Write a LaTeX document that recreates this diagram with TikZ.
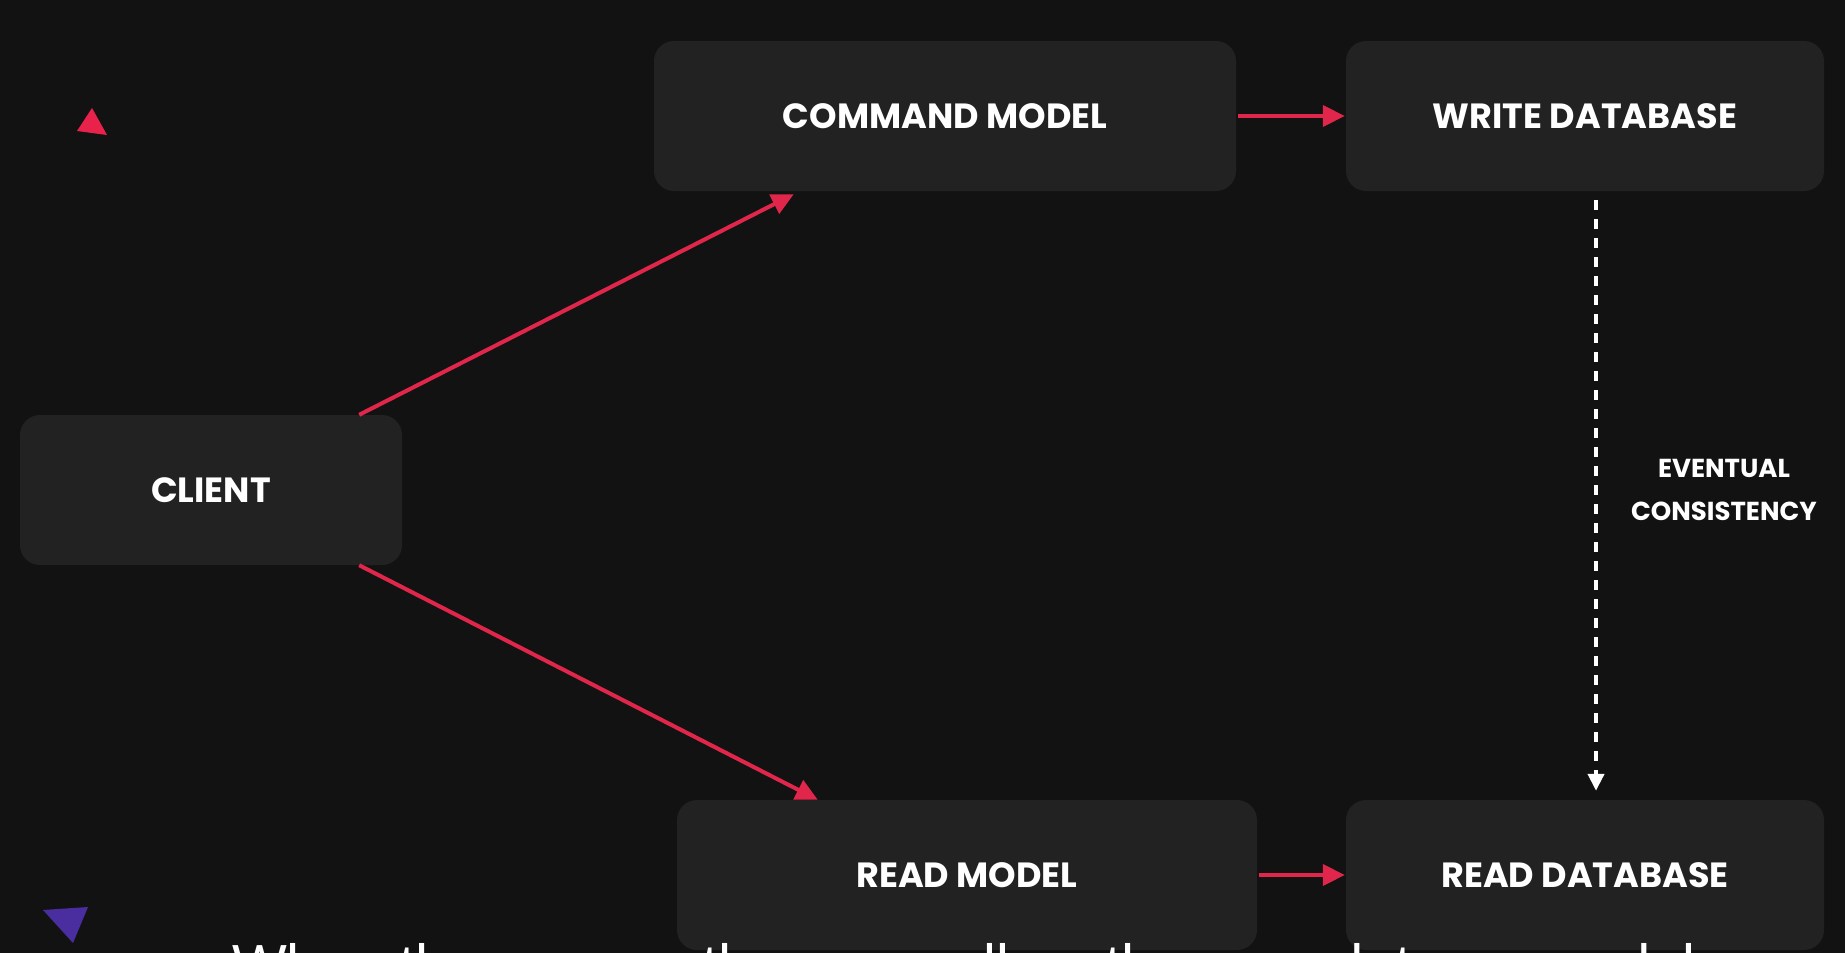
\documentclass[tikz,border=0pt]{standalone}
\usepackage{fontspec}
\setmainfont{Poppins}
\newfontfamily\capfont{Liberation Sans}
\usetikzlibrary{arrows.meta,calc}
\definecolor{bg}{HTML}{121212}
\definecolor{boxc}{HTML}{222222}
\definecolor{arr}{HTML}{E0264A}
\definecolor{trired}{HTML}{E8224A}
\definecolor{tripurple}{HTML}{4A2EA0}
\begin{document}
\begin{tikzpicture}[x=1pt,y=-1pt,
  box/.style={fill=boxc, rounded corners=20pt, minimum height=150pt, inner sep=0pt,
    text=white, font=\bfseries\fontsize{35}{40}\selectfont},
  redarrow/.style={draw=arr, line width=4pt, -{Triangle[length=22pt,width=21pt]}},
  dasharrow/.style={draw=white, line width=4pt, dash pattern=on 10pt off 9pt,
    -{Triangle[length=17pt,width=16pt]}},
  lbl/.style={text=white, font=\bfseries\fontsize{26}{43}\selectfont, align=center, inner sep=0pt},
  captext/.style={text=white, font=\capfont\fontsize{58}{60}\selectfont, inner sep=0pt, anchor=base west}
]
\fill[bg] (0,0) rectangle (1845,953);
\useasboundingbox (0,0) rectangle (1845,953);

\fill[trired] (92,108) -- (77,131) -- (107,135) -- cycle;
\fill[tripurple] (43,910) -- (88,907) -- (73,943) -- cycle;

\node[box, minimum width=382pt] (client) at (211,490) {CLIENT};
\node[box, minimum width=582pt] (cmd) at (945,116) {COMMAND MODEL};
\node[box, minimum width=478pt] (wdb) at (1585,116) {WRITE DATABASE};
\node[box, minimum width=580pt] (rmodel) at (967,875) {READ MODEL};
\node[box, minimum width=478pt] (rdb) at (1585,875) {READ DATABASE};

\draw[redarrow] ($(client.north east)+(-43,0)$) -- ($(cmd.south west)+(140,3)$);
\draw[redarrow] ($(client.south east)+(-43,0)$) -- ($(rmodel.north west)+(141,0)$);
\draw[redarrow, shorten <=2pt, shorten >=1pt] (cmd.east) -- (wdb.west);
\draw[redarrow, shorten <=2pt, shorten >=1pt] (rmodel.east) -- (rdb.west);
\draw[dasharrow, shorten <=9pt, shorten >=9pt] ($(wdb.south)+(11,0)$) -- ($(rdb.north)+(11,0)$);

\node[lbl] (ec) at (1724,490) {EVENTUAL\\CONSISTENCY};

\begin{scope}
\clip (0,0) rectangle (1845,953);
\node[captext] (cap) at (232,985) {When the screen, then we call on the user data as model};
\end{scope}
\end{tikzpicture}
\end{document}
